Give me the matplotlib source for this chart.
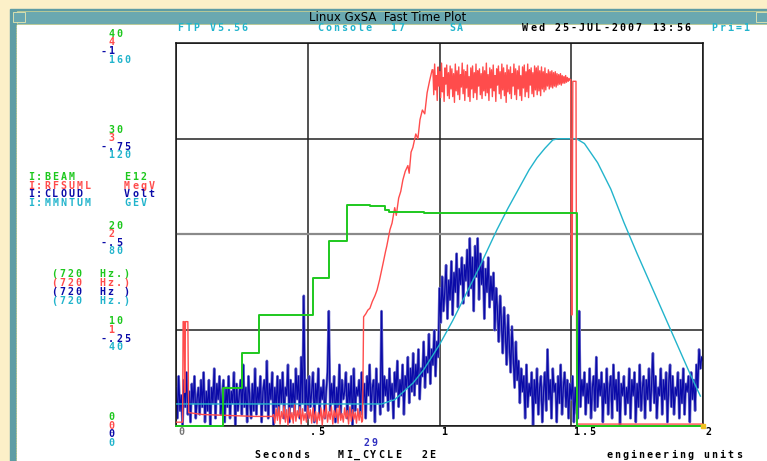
import numpy as np
import matplotlib.pyplot as plt
from matplotlib.patches import Rectangle

W, H = 767, 461

# x axis (seconds)
x_ticks = [0, 0.5, 1, 1.5, 2]
x_tick_labels = ["0", ".5", "1", "1.5", "2"]

# vertical scale labels for each channel, bottom gridline to top
beam_labels = [" 0", " 10", " 20", " 30", " 40"]
rf_labels = [" 0", " 1", " 2", " 3", " 4"]
cloud_labels = [" 0", "-.25", "-.5", "-.75", "-1"]
mmntum_labels = [" 0", " 40", " 80", " 120", " 160"]

# channel full scales
beam_lim = (0, 40)
rf_lim = (0, 4)
cloud_lim = (0, -1)
mmntum_lim = (0, 160)

channels = ["I:BEAM", "I:RFSUML", "I:CLOUD", "I:MMNTUM"]
units = ["E12", "MegV", "Volt", "GEV"]
rates = ["(720  Hz.)", "(720  Hz.)", "(720  Hz )", "(720  Hz.)"]

# I:BEAM (E12) - stepped injections, then extraction
beam_t = [0, 0.178, 0.25, 0.315, 0.52, 0.58, 0.65, 0.736, 0.793, 0.81, 0.94, 1.522, 2.0]
beam_v = [0, 4.0, 7.6, 11.6, 15.5, 19.3, 23.1, 23.0, 22.6, 22.35, 22.2, 0, 0]

# I:MMNTUM (GeV) - ramp
mmntum_t = [0, 0.78, 0.83, 0.86, 0.90, 0.94, 1.0, 1.05, 1.1, 1.15, 1.218, 1.26, 1.3,
            1.34, 1.37, 1.40, 1.43, 1.45, 1.52, 1.55, 1.60, 1.65, 1.70, 1.75, 1.8,
            1.85, 1.9, 1.95, 1.99]
mmntum_v = [9.2, 9.2, 11, 14, 18, 23.5, 34, 44, 55, 66, 82, 91, 99,
            107, 112, 116, 119.5, 120, 120, 118, 110, 99, 85, 72, 59.5,
            47, 34.5, 22, 12.5]

# I:RFSUML (MegV)
rf_start_t = [0.0, 0.025, 0.027, 0.031, 0.033, 0.036, 0.045, 0.048, 0.10, 0.20, 0.30, 0.365]
rf_start_v = [0.04, 0.04, 1.09, 1.09, 0.35, 1.09, 1.09, 0.14, 0.12, 0.11, 0.10, 0.10]
rf_noise = [
    0.12, 0.03, 0.18, 0.06, 0.20, 0.02, 0.15, 0.08, 0.21, 0.04, 0.17, 0.01, 0.19, 0.07, 0.14, 0.03, 0.22,
    0.05, 0.16, 0.09, 0.20, 0.02, 0.18, 0.06, 0.13, 0.04, 0.21, 0.08, 0.17, 0.03, 0.19, 0.05, 0.15, 0.02,
    0.14, 0.06, 0.19, 0.01, 0.17, 0.08, 0.22, 0.04, 0.15, 0.07, 0.20, 0.02, 0.16, 0.09, 0.18, 0.03, 0.21,
    0.06, 0.13, 0.04, 0.19, 0.08, 0.16, 0.02, 0.20, 0.05, 0.17, 0.07, 0.14, 0.03, 0.18, 0.06, 0.15, 0.04,
]
rf_rise_t = [0.708, 0.712, 0.72, 0.728, 0.736, 0.745, 0.755, 0.763, 0.772, 0.78,
             0.786, 0.795, 0.80, 0.812, 0.82, 0.83, 0.836, 0.845, 0.853, 0.861,
             0.87, 0.88, 0.885, 0.892, 0.899, 0.91, 0.918, 0.926, 0.935, 0.944,
             0.953, 0.962, 0.972]
rf_rise_v = [0.06, 1.14, 1.17, 1.21, 1.23, 1.30, 1.36, 1.42, 1.52, 1.62,
             1.70, 1.82, 1.88, 2.05, 2.12, 2.28, 2.20, 2.38, 2.45, 2.57,
             2.66, 2.72, 2.64, 2.86, 2.91, 3.05, 3.00, 3.20, 3.30, 3.26,
             3.48, 3.60, 3.72]
rf_flat = [
    3.72, 3.46, 3.78, 3.51, 3.66, 3.40, 3.75, 3.55, 3.70, 3.43, 3.79, 3.49, 3.64, 3.39, 3.74, 3.57, 3.77, 3.45, 3.69, 3.42,
    3.76, 3.52, 3.73, 3.44, 3.68, 3.38, 3.78, 3.50, 3.71, 3.46, 3.75, 3.41, 3.67, 3.54, 3.79, 3.47, 3.72, 3.40, 3.70, 3.53,
    3.77, 3.44, 3.65, 3.39, 3.74, 3.52, 3.76, 3.43, 3.69, 3.48, 3.78, 3.41, 3.71, 3.55, 3.73, 3.46, 3.68, 3.42, 3.75, 3.50,
    3.71, 3.45, 3.79, 3.48, 3.67, 3.40, 3.74, 3.53, 3.72, 3.44, 3.77, 3.50, 3.66, 3.39, 3.73, 3.56, 3.76, 3.47, 3.70, 3.42,
    3.78, 3.51, 3.74, 3.45, 3.69, 3.38, 3.77, 3.49, 3.72, 3.47, 3.75, 3.42, 3.68, 3.55, 3.78, 3.46, 3.73, 3.41, 3.71, 3.52,
    3.76, 3.45, 3.66, 3.40, 3.75, 3.53, 3.77, 3.44, 3.70, 3.49, 3.78, 3.43, 3.72, 3.56, 3.74, 3.47, 3.69, 3.44, 3.76, 3.51,
    3.74, 3.46, 3.76, 3.50, 3.71, 3.45, 3.75, 3.52, 3.70, 3.49, 3.74, 3.51, 3.68, 3.55, 3.72, 3.52, 3.70, 3.54, 3.71, 3.53,
    3.69, 3.55, 3.70, 3.54, 3.68, 3.56, 3.67, 3.57, 3.68, 3.56, 3.66, 3.58, 3.65, 3.58, 3.66, 3.59, 3.64, 3.60, 3.63, 3.61,
]
rf_drop_t = [1.498, 1.501, 1.503, 1.506, 1.518, 1.521, 2.0]
rf_drop_v = [3.62, 1.16, 1.16, 3.60, 3.60, 0.02, 0.02]

# I:CLOUD (Volt), sampled evenly over the 2 s window
cloud_v = [
    -0.10, -0.02, -0.13, -0.04, -0.08, 0.00, -0.12, -0.05, -0.14, -0.03, -0.09, -0.01, -0.11, -0.06, -0.13, -0.02, -0.07, -0.10, -0.03, -0.12,
    -0.05, -0.14, -0.01, -0.09, -0.04, -0.12, 0.00, -0.10, -0.06, -0.15, -0.02, -0.11, -0.07, -0.13, -0.03, -0.08, -0.12, -0.01, -0.10, -0.05,
    -0.13, -0.02, -0.09, -0.06, -0.14, 0.00, -0.11, -0.04, -0.08, -0.12, -0.03, -0.16, -0.05, -0.10, -0.01, -0.13, -0.07, -0.02, -0.11, -0.04,
    -0.15, -0.03, -0.10, -0.06, -0.13, -0.01, -0.09, -0.12, -0.04, -0.17, -0.02, -0.11, -0.07, -0.14, 0.00, -0.10, -0.05, -0.13, -0.03, -0.12,
    -0.06, -0.14, -0.02, -0.10, -0.08, -0.16, -0.01, -0.12, -0.05, -0.11, -0.03, -0.15, -0.07, -0.13, -0.02, -0.18, -0.06, -0.34, -0.04, -0.12,
    -0.02, -0.13, -0.05, -0.09, -0.14, -0.01, -0.11, -0.06, -0.15, -0.03, -0.10, -0.07, -0.12, -0.02, -0.09, -0.14, -0.30, -0.04, -0.11, -0.06,
    -0.13, -0.01, -0.10, -0.05, -0.16, -0.03, -0.12, -0.07, -0.09, -0.14, -0.02, -0.11, -0.06, -0.13, 0.00, -0.15, -0.04, -0.10, -0.08, -0.12,
    -0.03, -0.14, -0.06, -0.11, -0.02, -0.13, -0.08, -0.16, -0.04, -0.10, -0.12, -0.01, -0.15, -0.06, -0.11, -0.03, -0.30, -0.05, -0.13, -0.08,
    -0.12, -0.04, -0.15, -0.07, -0.11, -0.02, -0.14, -0.09, -0.17, -0.05, -0.12, -0.08, -0.16, -0.03, -0.13, -0.10, -0.18, -0.06, -0.15, -0.09,
    -0.19, -0.08, -0.16, -0.11, -0.20, -0.07, -0.15, -0.13, -0.22, -0.10, -0.18, -0.14, -0.24, -0.11, -0.20, -0.16, -0.25, -0.13, -0.22, -0.18,
    -0.36, -0.27, -0.39, -0.30, -0.35, -0.42, -0.28, -0.38, -0.33, -0.43, -0.29, -0.40, -0.35, -0.45, -0.31, -0.41, -0.37, -0.44, -0.32, -0.42,
    -0.38, -0.46, -0.34, -0.49, -0.36, -0.44, -0.30, -0.47, -0.39, -0.49, -0.33, -0.45, -0.37, -0.43, -0.28, -0.41, -0.35, -0.44, -0.31, -0.39,
    -0.33, -0.40, -0.25, -0.36, -0.30, -0.22, -0.34, -0.27, -0.19, -0.31, -0.24, -0.16, -0.29, -0.21, -0.14, -0.26, -0.18, -0.10, -0.22, -0.12,
    -0.17, -0.06, -0.15, -0.09, -0.13, -0.02, -0.16, -0.05, -0.11, -0.08, -0.14, 0.00, -0.12, -0.06, -0.15, -0.03, -0.10, -0.13, -0.01, -0.09,
    -0.14, -0.04, -0.20, -0.07, -0.12, -0.02, -0.15, -0.09, -0.11, -0.01, -0.13, -0.06, -0.16, -0.03, -0.10, -0.14, -0.05, -0.12, -0.02, -0.11,
    -0.07, -0.13, -0.01, -0.10, -0.04, -0.02, -0.30, -0.05, -0.12, -0.08, -0.14, -0.03, -0.11, -0.06, -0.15, -0.02, -0.10, -0.13, -0.04, -0.18,
    -0.05, -0.12, -0.08, -0.14, -0.01, -0.11, -0.06, -0.15, -0.03, -0.10, -0.13, -0.02, -0.16, -0.07, -0.12, -0.04, -0.14, 0.00, -0.11, -0.08,
    -0.13, -0.03, -0.10, -0.06, -0.15, -0.02, -0.12, -0.08, -0.14, -0.01, -0.11, -0.05, -0.16, -0.04, -0.10, -0.13, -0.02, -0.12, -0.07, -0.15,
    -0.04, -0.11, -0.19, -0.06, -0.13, -0.02, -0.10, -0.08, -0.15, -0.03, -0.12, -0.07, -0.14, -0.01, -0.11, -0.16, -0.05, -0.13, -0.03, -0.10,
    -0.08, -0.14, -0.02, -0.12, -0.06, -0.15, -0.03, -0.11, -0.09, -0.13, -0.01, -0.14, -0.07, -0.12, -0.04, -0.16, -0.10, -0.20, -0.15, -0.18,
    -0.17,
]

GREEN = "#1ec81e"
RED = "#ff4c4c"
BLUE = "#0a0aa8"
CYAN = "#22b4cc"
TEAL = "#5e9da5"

fig = plt.figure(figsize=(W / 100, H / 100), dpi=100)

# window chrome drawn in pixel coordinates
bg = fig.add_axes([0, 0, 1, 1])
bg.set_xlim(0, W)
bg.set_ylim(H, 0)
bg.axis("off")
bg.add_patch(Rectangle((0, 0), W, H, color="#fcf0c8"))
bg.add_patch(Rectangle((10, 9), W, H, color=TEAL))
bg.add_patch(Rectangle((17, 25), W, H, color="white"))
bg.add_patch(Rectangle((17, 11), W, 13, facecolor="#6aa8b0", edgecolor="#d8d890", lw=0.5))
bg.add_patch(Rectangle((13, 12), 12, 10, facecolor="#6aa8b0", edgecolor="#e8e8b0", lw=0.6))
bg.add_patch(Rectangle((756, 12), 12, 10, facecolor="#6aa8b0", edgecolor="#e8e8b0", lw=0.6))
bg.plot([16, 16], [25, H], color="#d8d070", lw=0.6, ls=(0, (1, 1)))
bg.text(388, 17.5, "Linux GxSA  Fast Time Plot", ha="center", va="center",
        fontsize=8.5, color="black", family="DejaVu Sans")


def term(x, y, s, color, size=7.2, pitch=8.1):
    # fixed-pitch terminal style text, one cell per character
    for i, ch in enumerate(s):
        if ch != " ":
            bg.text(x + i * pitch + pitch / 2, y, ch, color=color, fontsize=size,
                    family="DejaVu Sans Mono", fontweight="bold",
                    ha="center", va="center")


# header line
term(176, 28, "FTP V5.56", CYAN)
term(316, 28, "Console  17", CYAN)
term(448, 28, "SA", CYAN)
term(521, 28, "Wed 25-JUL-2007 13:56", "black")
term(710, 28, "Pri=1", CYAN)

# plot area
ax = fig.add_axes([176 / W, 35 / H, 527 / W, 383 / H])
ax.set_zorder(2)
ax.set_xlim(0, 2)
ax.set_ylim(*cloud_lim)
ax.set_xticks(x_ticks)
ax.set_yticks(np.linspace(cloud_lim[0], cloud_lim[1], 5))
ax.tick_params(length=0, labelbottom=False, labelleft=False)
ax.grid(True, color="#222222", lw=1.1)
ax.get_ygridlines()[2].set_color("#8a8a8a")
ax.get_ygridlines()[2].set_linewidth(1.6)
for sp in ax.spines.values():
    sp.set_color("#111111")
    sp.set_linewidth(1.1)

# cloud trace: soft halo under a dark core
t_cloud = np.linspace(0, 2, len(cloud_v))
ax.plot(t_cloud, cloud_v, color="#6c6cc8", lw=1.9)
ax.plot(t_cloud, cloud_v, color=BLUE, lw=0.9)


def overlay(lim):
    a = ax.twinx()
    a.set_ylim(*lim)
    a.axis("off")
    return a


ax_m = overlay(mmntum_lim)
ax_m.plot(mmntum_t, mmntum_v, color=CYAN, lw=1.0)

ax_r = overlay(rf_lim)
rf_t = np.concatenate([rf_start_t,
                       np.linspace(0.37, 0.705, len(rf_noise)),
                       rf_rise_t,
                       np.linspace(0.975, 1.495, len(rf_flat)),
                       rf_drop_t])
rf_v = np.concatenate([rf_start_v, rf_noise, rf_rise_v, rf_flat, rf_drop_v])
ax_r.plot(rf_t, rf_v, color=RED, lw=1.0)

ax_g = overlay(beam_lim)
ax_g.plot(beam_t, beam_v, color=GREEN, lw=1.4, drawstyle="steps-post", clip_on=False,
          marker="s", markevery=[-1], ms=3, mfc="#f0c020", mec="#f0c020")

# vertical scale labels stacked at each gridline
fig.canvas.draw()
for i in range(5):
    yg = H - ax.transAxes.transform((0, i / 4))[1]
    term(99, yg - 9, beam_labels[i], GREEN)
    term(99, yg - 0.5, rf_labels[i], RED)
    term(99, yg + 8.3, cloud_labels[i], BLUE)
    term(99, yg + 16.7, mmntum_labels[i], CYAN)

# x tick labels just right of each vertical gridline
for t, lab in zip(x_ticks, x_tick_labels):
    xg = ax.transData.transform((t, 0))[0]
    term(xg + 1, 432, lab, "#777777" if t == 0 else "black")

# channel legend
for k, (name, unit) in enumerate(zip(channels, units)):
    col = [GREEN, RED, BLUE, CYAN][k]
    term(27, 177 + 8.7 * k, name, col)
    term(123, 177 + 8.7 * k, unit, col)
for k, r in enumerate(rates):
    term(50, 274 + 9 * k, r, [GREEN, RED, BLUE, CYAN][k])

# footer
term(362, 443, "29", "#3030c0")
term(253, 455, "Seconds", "black")
term(337, 455, "MI_CYCLE", "black")
term(420, 455, "2E", "black")
term(605, 455, "engineering units", "black")

fig.savefig("out.png", dpi=100)
